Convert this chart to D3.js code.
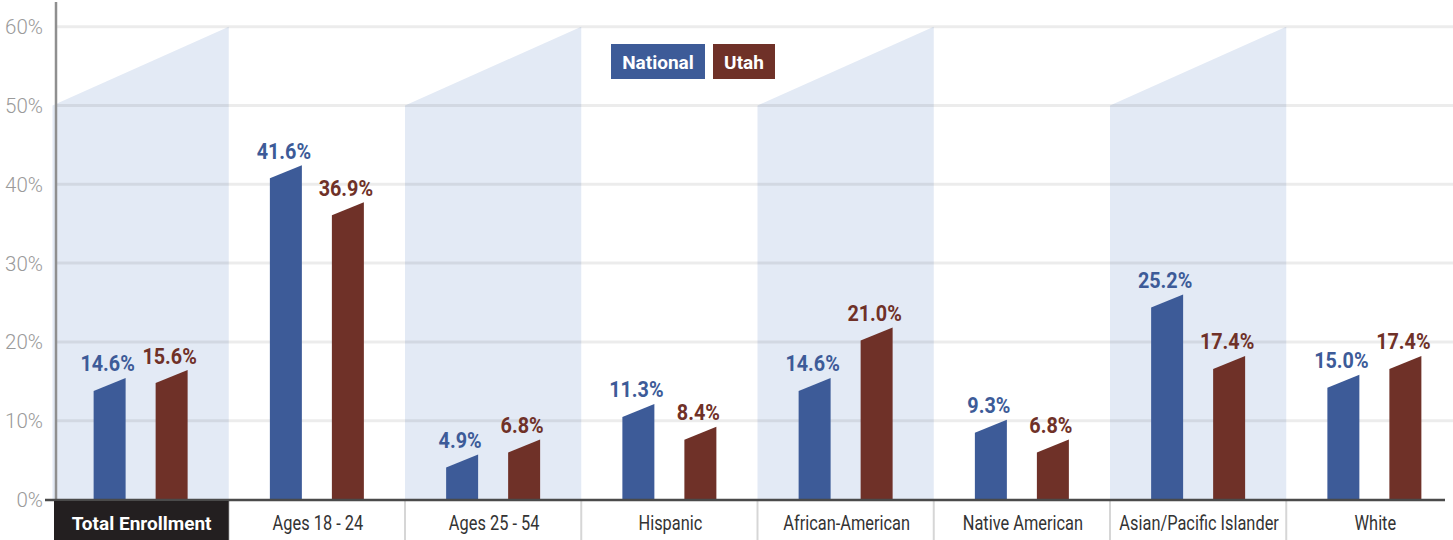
<!DOCTYPE html>
<html>
<head>
<meta charset="utf-8">
<script src="https://cdn.jsdelivr.net/npm/d3@7/dist/d3.min.js"></script>
<style>
    html, body { margin: 0; padding: 0; background: #fff; }
    svg { display: block; }
    .tick-label { font-family: Roboto, sans-serif; font-weight: 300; font-size: 20.5px; fill: #9a9a9a; }
    .cat-label { font-family: Roboto, sans-serif; font-weight: 400; font-size: 19.5px; fill: #333; }
    .value-label { font-family: Roboto, sans-serif; font-weight: 700; font-size: 22px; }
    .legend-label, .first-label { font-family: Roboto, sans-serif; font-weight: 700; font-size: 19px; fill: #fff; }
</style>
</head>
<body>
<svg id="chart" width="1453" height="540"></svg>
<script>
// Enrollment share by group, National vs Utah (percent)
const categories = [
    'Total Enrollment', 'Ages 18 - 24', 'Ages 25 - 54', 'Hispanic',
    'African-American', 'Native American', 'Asian/Pacific Islander', 'White'
];
const nationalValues = [14.6, 41.6, 4.9, 11.3, 14.6, 9.3, 25.2, 15.0];
const utahValues = [15.6, 36.9, 6.8, 8.4, 21.0, 6.8, 17.4, 17.4];
const yTicks = [0, 10, 20, 30, 40, 50, 60];
const seriesNames = ['National', 'Utah'];

const W = 1453, H = 540;
const axisX = 56, baseY = 499.5;
const colors = { National: '#3d5b98', Utah: '#6f3128' };
const shadeColor = '#e3eaf5';

const svg = d3.select('#chart');

// Bands run past the right edge, last one is cut off like the original
const x = d3.scaleBand()
    .domain(categories)
    .range([52.5, 52.5 + 176.25 * categories.length])
    .padding(0);

const y = d3.scaleLinear().domain([0, 60]).range([baseY, 26.7]);

// bar slots inside each group: 32px wide, 62px apart
const xs = d3.scaleBand()
    .domain(seriesNames)
    .range([-47, 47])
    .paddingInner(0.484);

// Shaded trapezoid behind every other group
svg.append('g').selectAll('path')
    .data(categories.filter((c, i) => i % 2 === 0))
    .join('path')
    .attr('d', c => {
        const x0 = x(c), x1 = x(c) + x.bandwidth();
        return `M${x0},${y(50)}L${x1},${y(60)}L${x1},${y(0)}L${x0},${y(0)}Z`;
    })
    .attr('fill', shadeColor);

// Gridlines
svg.append('g').selectAll('line')
    .data(yTicks.filter(t => t > 0))
    .join('line')
    .attr('x1', axisX).attr('x2', W)
    .attr('y1', d => y(d)).attr('y2', d => y(d))
    .attr('stroke', 'rgba(0,0,0,0.075)')
    .attr('stroke-width', 3);

// Group separators in the label row
const bounds = categories.slice(1).map(c => x(c));
svg.append('g').selectAll('line')
    .data(bounds)
    .join('line')
    .attr('x1', d => d).attr('x2', d => d)
    .attr('y1', y(0)).attr('y2', H)
    .attr('stroke', '#d6d6d6')
    .attr('stroke-width', 2);

// Bars with slanted tops
const groups = svg.append('g').selectAll('g')
    .data(categories)
    .join('g')
    .attr('transform', c => `translate(${x(c) + x.bandwidth() / 2},0)`);

const barData = (c, i) => seriesNames.map(s => ({
    series: s,
    value: s === 'National' ? nationalValues[i] : utahValues[i]
}));

groups.selectAll('path')
    .data(barData)
    .join('path')
    .attr('d', d => {
        const bx0 = xs(d.series), bx1 = bx0 + xs.bandwidth();
        const top = y(d.value);
        return `M${bx0},${y(0)}L${bx0},${top + 6.5}L${bx1},${top - 6.5}L${bx1},${y(0)}Z`;
    })
    .attr('fill', d => colors[d.series]);

// condensed look: squeeze Roboto horizontally
groups.selectAll('text')
    .data(barData)
    .join('text')
    .attr('class', 'value-label')
    .attr('transform', d => `translate(${xs(d.series) + xs.bandwidth() / 2 - 2},${y(d.value) - 13}) scale(0.9,1)`)
    .attr('text-anchor', 'middle')
    .attr('fill', d => colors[d.series])
    .text(d => d.value.toFixed(1) + '%');

// Y axis
svg.append('line')
    .attr('x1', axisX).attr('x2', axisX)
    .attr('y1', 2).attr('y2', y(0))
    .attr('stroke', '#8f8f8f').attr('stroke-width', 2.5);

svg.append('g').selectAll('text')
    .data(yTicks)
    .join('text')
    .attr('class', 'tick-label')
    .attr('x', 43)
    .attr('y', d => y(d) + 7.5)
    .attr('text-anchor', 'end')
    .text(d => d + '%');

// Baseline
svg.append('line')
    .attr('x1', 45).attr('x2', 1445)
    .attr('y1', y(0) + 0.5).attr('y2', y(0) + 0.5)
    .attr('stroke', '#4a4a4a').attr('stroke-width', 2.5);

// Category labels, first one on a dark tab
svg.append('rect')
    .attr('x', 54).attr('y', y(0) + 1.5)
    .attr('width', x(categories[1]) - 54)
    .attr('height', H - y(0))
    .attr('fill', '#231f20');

svg.append('g').selectAll('text')
    .data(categories)
    .join('text')
    .attr('class', (c, i) => i === 0 ? 'first-label' : 'cat-label')
    .attr('transform', (c, i) => {
        const cx = x(c) + x.bandwidth() / 2 + 1;
        return `translate(${cx},530) scale(${i === 0 ? 1 : 0.84},1)`;
    })
    .attr('text-anchor', 'middle')
    .text(c => c);

// Legend
const legend = [
    { name: 'National', x: 611, w: 94 },
    { name: 'Utah', x: 713, w: 62 }
];
const lg = svg.append('g').selectAll('g')
    .data(legend)
    .join('g');
lg.append('rect')
    .attr('x', d => d.x).attr('y', 44)
    .attr('width', d => d.w).attr('height', 35)
    .attr('fill', d => colors[d.name]);
lg.append('text')
    .attr('class', 'legend-label')
    .attr('x', d => d.x + d.w / 2)
    .attr('y', 68.5)
    .attr('text-anchor', 'middle')
    .text(d => d.name);
</script>
</body>
</html>
